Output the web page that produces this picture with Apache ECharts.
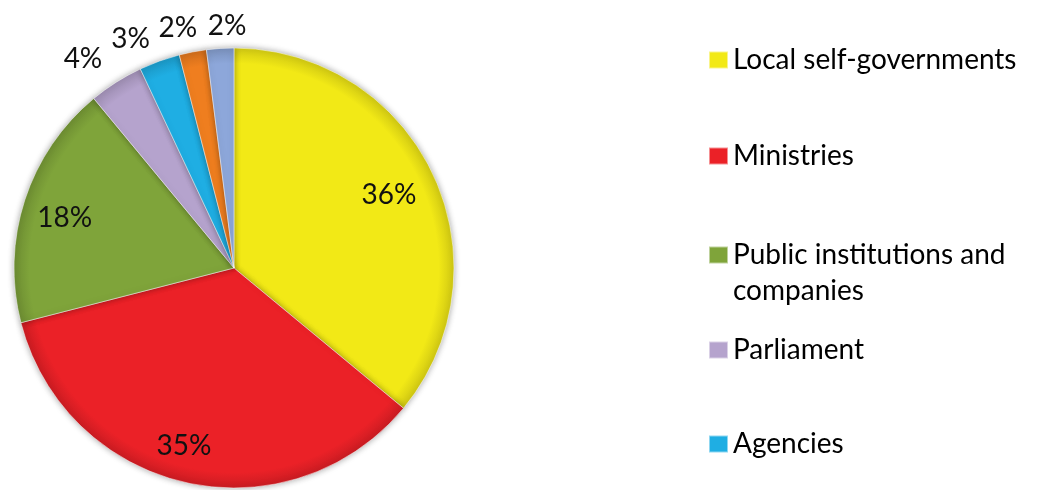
<!DOCTYPE html>
<html>
<head>
<meta charset="utf-8">
<script src="https://cdn.jsdelivr.net/npm/echarts@6/dist/echarts.min.js"></script>
<style>
  html, body { margin: 0; padding: 0; background: #fff; }
  #chart { width: 1041px; height: 490px; }
</style>
</head>
<body>
<div id="chart"></div>
<script>
// Share of institutions, in percent
const categories = [
  'Local self-governments',
  'Ministries',
  'Public institutions and companies',
  'Parliament',
  'Agencies',
  'Courts',
  'Other'
];
const shares = [36, 35, 18, 4, 3, 2, 2];
const colors = ['#F2E916', '#EB2127', '#7FA43A', '#B5A3CD', '#1FAEE3', '#EF7E1F', '#8DA7DA'];
// Legend entries (the last two slices have no legend entry)
const legendNames = categories.slice(0, 5);
const legendFirstLine = {
  'Public institutions and companies': 'Public institutions and'
};
const legendSecondLine = 'companies';

const FONT = 'Lato';
const cx = 234, cy = 268, R = 220;
const bigCut = 10; // slices at or above this share carry their label inside

// small nudges for the percentage labels
const labelOffsets = [[-7, 3], [-11, 3], [1, 5], [-16, 4], [-18, 8], [-9, 8], [9, 9]];

function shade(hex, k) {
  const n = parseInt(hex.slice(1), 16);
  const r = Math.round(((n >> 16) & 255) * k);
  const g = Math.round(((n >> 8) & 255) * k);
  const b = Math.round((n & 255) * k);
  return 'rgb(' + r + ',' + g + ',' + b + ')';
}

const baseData = categories.map((name, i) => ({
  name,
  value: shares[i],
  itemStyle: {
    color: {
      type: 'radial', x: cx, y: cy, r: R, global: true,
      colorStops: [
        { offset: 0, color: colors[i] },
        { offset: 0.93, color: colors[i] },
        { offset: 1, color: shade(colors[i], 0.86) }
      ]
    }
  }
}));

const labelData = categories.map((name, i) => ({
  name,
  value: shares[i],
  label: { offset: labelOffsets[i] }
}));

const legendTops = [37, 133, 232, 327, 421];
const legends = legendNames.map((name, i) => ({
  left: 703,
  top: legendTops[i],
  orient: 'vertical',
  icon: 'rect',
  itemWidth: 19,
  itemHeight: 17,
  selectedMode: false,
  data: [{ name, itemStyle: { color: colors[i] } }],
  formatter: n => legendFirstLine[n] || n,
  textStyle: {
    fontFamily: FONT,
    fontSize: 28,
    color: '#000',
    lineHeight: 36
  }
}));

const chart = echarts.init(document.getElementById('chart'), null, { renderer: 'canvas' });
chart.setOption({
  animation: false,
  backgroundColor: '#fff',
  title: {
    text: legendSecondLine,
    left: 733,
    top: 273,
    padding: 0,
    textStyle: { fontFamily: FONT, fontSize: 28, fontWeight: 'normal', color: '#000', lineHeight: 36 }
  },
  legend: legends,
  series: [
    {
      // visible pie
      type: 'pie',
      center: [cx, cy],
      radius: [0, R],
      startAngle: 90,
      clockwise: true,
      silent: true,
      label: { show: false },
      labelLine: { show: false },
      itemStyle: {
        borderColor: 'rgba(255,255,255,0.5)',
        borderWidth: 1,
        shadowBlur: 6,
        shadowColor: 'rgba(0,0,0,0.35)'
      },
      data: baseData
    },
    {
      // inner ring carrying the labels of the large slices
      type: 'pie',
      center: [cx, cy],
      radius: [R * 0.6, R],
      startAngle: 90,
      silent: true,
      itemStyle: { color: 'rgba(0,0,0,0)' },
      labelLine: { show: false },
      labelLayout: { hideOverlap: false },
      label: {
        position: 'inside',
        formatter: p => p.value >= bigCut ? p.value + '%' : '',
        fontFamily: FONT,
        fontSize: 28,
        color: '#111'
      },
      emphasis: { disabled: true },
      data: labelData
    },
    {
      // outer ring carrying the labels of the small slices
      type: 'pie',
      center: [cx, cy],
      radius: [R + 4, R + 54],
      startAngle: 90,
      silent: true,
      itemStyle: { color: 'rgba(0,0,0,0)' },
      labelLine: { show: false },
      labelLayout: { hideOverlap: false },
      label: {
        position: 'inside',
        formatter: p => p.value < bigCut ? p.value + '%' : '',
        fontFamily: FONT,
        fontSize: 28,
        color: '#111'
      },
      emphasis: { disabled: true },
      data: labelData
    }
  ]
});
</script>
</body>
</html>
